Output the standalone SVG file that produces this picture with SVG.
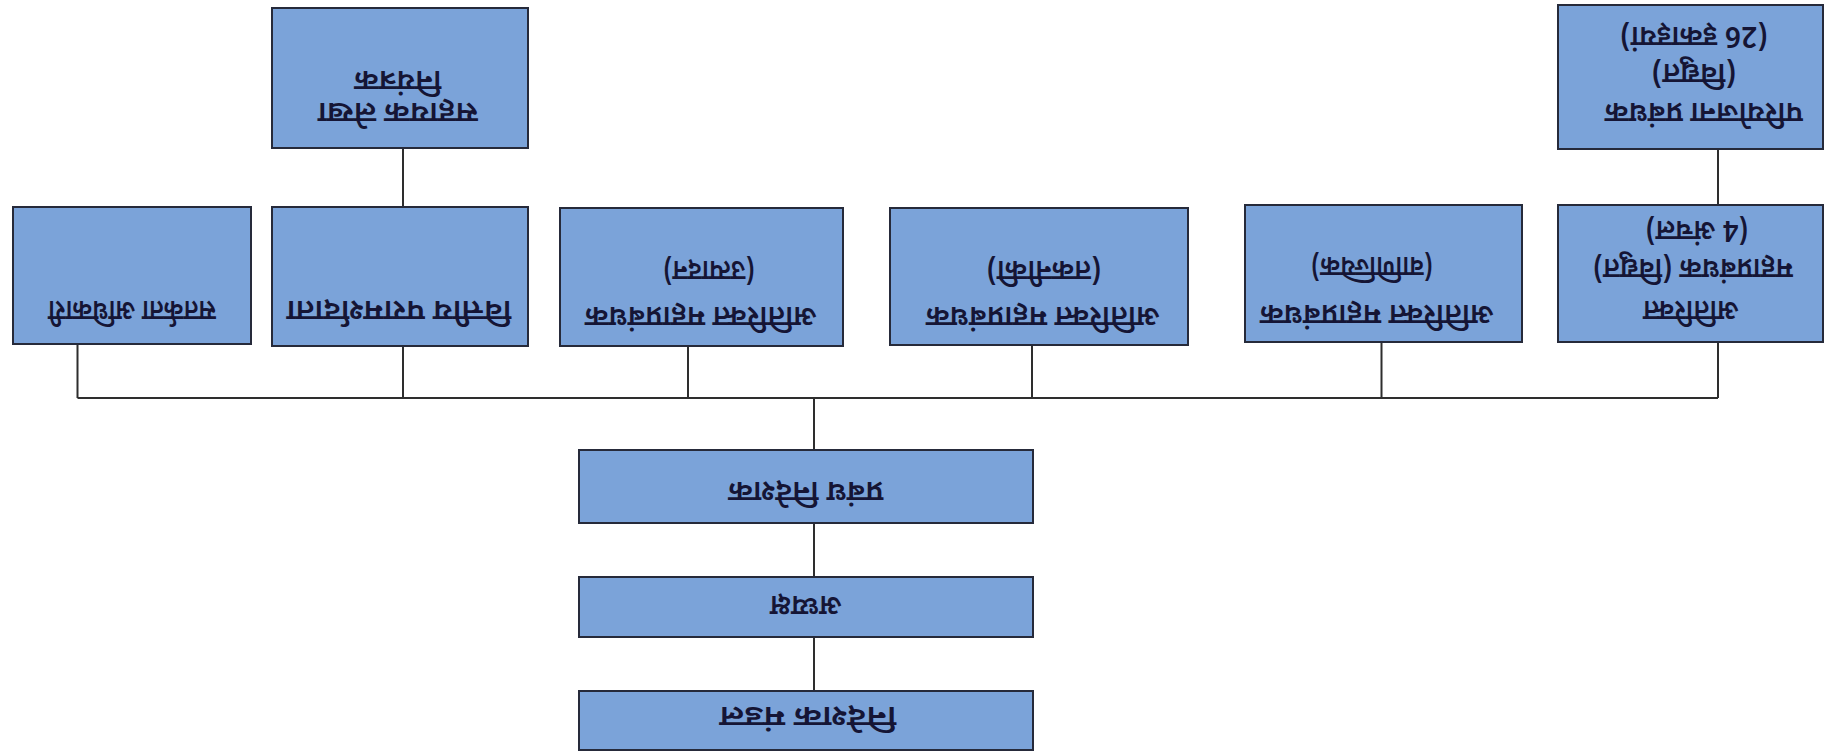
<svg xmlns="http://www.w3.org/2000/svg" width="1824" height="754" viewBox="0 0 1824 754">
<style>
.box{fill:#7ba3d9;stroke:#262a3a;stroke-width:2}
.lbl{font-family:"Noto Sans Devanagari","Lohit Devanagari","Noto Sans","Liberation Sans",sans-serif;font-size:29px;font-weight:600;fill:#151535;text-anchor:middle}
.cn{stroke:#2e2e2e;stroke-width:2;fill:none}
</style>
<rect width="1824" height="754" fill="#ffffff"/>
<g id="connectors">
<path class="cn" d="M77.5 398H1718"/>
<path class="cn" d="M77.5 344V398M403 346V398M688 346V398M1032 345V398M1381.5 342V398M1718 342V398"/>
<path class="cn" d="M403 148V207M1718 149V205"/>
<path class="cn" d="M814 398V450M814 523V577M814 637V691"/>
</g>
<g id="n-board">
<rect class="box" x="579" y="691" width="454" height="59"/>
<text class="lbl" x="808" y="727" textLength="177" lengthAdjust="spacingAndGlyphs" transform="rotate(180 808 717)">निदेशक मंडल</text>
</g>
<g id="n-chairman">
<rect class="box" x="579" y="577" width="454" height="60"/>
<text class="lbl" x="806" y="616" textLength="72" lengthAdjust="spacingAndGlyphs" transform="rotate(180 806 606)">अध्यक्ष</text>
</g>
<g id="n-md">
<rect class="box" x="579" y="450" width="454" height="73"/>
<text class="lbl" x="806" y="502" textLength="155" lengthAdjust="spacingAndGlyphs" transform="rotate(180 806 492)">प्रबंध निदेशक</text>
</g>
<g id="n-vigilance">
<rect class="box" x="13" y="207" width="238" height="137"/>
<text class="lbl" x="132" y="321" textLength="168" lengthAdjust="spacingAndGlyphs" transform="rotate(180 132 311)">सतर्कता अधिकारी</text>
</g>
<g id="n-finance">
<rect class="box" x="272" y="207" width="256" height="139"/>
<text class="lbl" x="399" y="321" textLength="225" lengthAdjust="spacingAndGlyphs" transform="rotate(180 399 311)">वित्तीय परामर्शदाता</text>
</g>
<g id="n-accounts">
<rect class="box" x="272" y="8" width="256" height="140"/>
<text class="lbl" x="398" y="123" textLength="160" lengthAdjust="spacingAndGlyphs" transform="rotate(180 398 113)">सहायक लेखा</text>
<text class="lbl" x="398" y="91" textLength="87" lengthAdjust="spacingAndGlyphs" transform="rotate(180 398 81)">नियंत्रक</text>
</g>
<g id="n-agm-generation">
<rect class="box" x="560" y="208" width="283" height="138"/>
<text class="lbl" x="701" y="327" textLength="232" lengthAdjust="spacingAndGlyphs" transform="rotate(180 701 317)">अतिरिक्त महाप्रबंधक</text>
<text class="lbl" x="709" y="281" textLength="92" lengthAdjust="spacingAndGlyphs" transform="rotate(180 709 271)">(उत्पादन)</text>
</g>
<g id="n-agm-technical">
<rect class="box" x="890" y="208" width="298" height="137"/>
<text class="lbl" x="1043" y="327" textLength="234" lengthAdjust="spacingAndGlyphs" transform="rotate(180 1043 317)">अतिरिक्त महाप्रबंधक</text>
<text class="lbl" x="1044" y="281" textLength="115" lengthAdjust="spacingAndGlyphs" transform="rotate(180 1044 271)">(तकनीकी)</text>
</g>
<g id="n-agm-commercial">
<rect class="box" x="1245" y="205" width="277" height="137"/>
<text class="lbl" x="1377" y="325" textLength="234" lengthAdjust="spacingAndGlyphs" transform="rotate(180 1377 315)">अतिरिक्त महाप्रबंधक</text>
<text class="lbl" x="1372" y="277" textLength="122" lengthAdjust="spacingAndGlyphs" transform="rotate(180 1372 267)">(वाणिज्यिक)</text>
</g>
<g id="n-agm-electrical">
<rect class="box" x="1558" y="205" width="265" height="137"/>
<text class="lbl" x="1691" y="321" textLength="96" lengthAdjust="spacingAndGlyphs" transform="rotate(180 1691 311)">अतिरिक्त</text>
<text class="lbl" x="1693" y="279" textLength="200" lengthAdjust="spacingAndGlyphs" transform="rotate(180 1693 269)">महाप्रबंधक (विद्युत)</text>
<text class="lbl" x="1697" y="241" textLength="103" lengthAdjust="spacingAndGlyphs" transform="rotate(180 1697 231)">(4 अंचल)</text>
</g>
<g id="n-project-managers">
<rect class="box" x="1558" y="5" width="265" height="144"/>
<text class="lbl" x="1704" y="123" textLength="198" lengthAdjust="spacingAndGlyphs" transform="rotate(180 1704 113)">परियोजना प्रबंधक</text>
<text class="lbl" x="1694" y="84" textLength="85" lengthAdjust="spacingAndGlyphs" transform="rotate(180 1694 74)">(विद्युत)</text>
<text class="lbl" x="1694" y="47" textLength="148" lengthAdjust="spacingAndGlyphs" transform="rotate(180 1694 37)">(26 इकाइयां)</text>
</g>
</svg>
